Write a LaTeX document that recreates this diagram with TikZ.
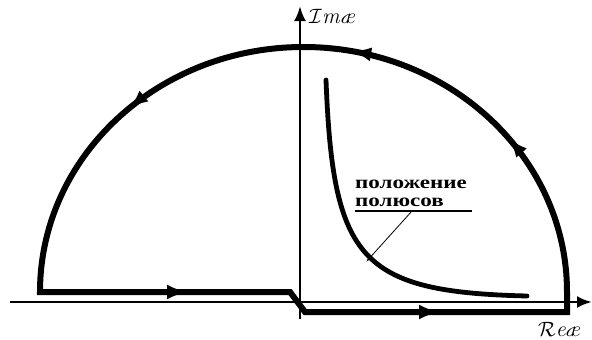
\documentclass[tikz,border=0pt]{standalone}
\usepackage{fontspec}
\newfontfamily\polfont[FakeStretch=1.28]{Liberation Serif}
\usepackage{tikz}
\usetikzlibrary{arrows.meta,positioning,decorations.markings}
\tikzset{
    os/.style={line width=2.8pt, -{Latex[length=15pt,width=12pt]}},
    kontur/.style={
        line width=6pt,
        line join=miter,
        postaction={decorate},
        decoration={markings,
            mark=at position 148pt with {\arrow{Latex[length=21pt,width=15pt]}},
            mark=at position 410pt with {\arrow{Latex[length=21pt,width=15pt]}},
            mark=at position 0.535 with {\arrow{Latex[length=20pt,width=14pt]}},
            mark=at position 0.67 with {\arrow{Latex[length=20pt,width=14pt]}},
            mark=at position 0.845 with {\arrow{Latex[length=20pt,width=14pt]}}}
    },
    polus/.style={line width=4.8pt, line cap=round},
    vynoska/.style={line width=0.8pt, -{Latex[length=8pt,width=5pt]}},
    podcherk/.style={line width=1.3pt},
    metka/.style={font=\fontsize{22}{22}\selectfont, inner sep=0pt},
    slovo/.style={font=\polfont\bfseries\fontsize{18}{18}\selectfont,
        inner sep=0pt, text height=8.5pt, text depth=0pt}
}

\begin{document}
\begin{tikzpicture}[x=1pt, y=-1pt]
    \useasboundingbox (0,0) rectangle (592,340);

    % oси
    \coordinate (xa) at (10,302);
    \coordinate (xb) at (592,302);
    \coordinate (ya) at (300,319);
    \coordinate (yb) at (300,6);
    \draw[os] (xa) -- (xb);
    \draw[os] (ya) -- (yb);
    \node[metka, anchor=west] (im) at (309,17) {$\mathcal{I}$\textit{mæ}};
    \node[metka, anchor=west] (re) at (538,330) {$\mathcal{R}$\textit{eæ}};

    % контур
    \coordinate (k1) at (40,292);
    \coordinate (k2) at (290,292);
    \coordinate (k3) at (305,312);
    \coordinate (k4) at (567,312);
    \coordinate (k5) at (567,292);
    \draw[kontur] (k1) -- (k2) -- (k3) -- (k4) -- (k5)
        arc[start angle=0, end angle=-180, x radius=263.5, y radius=245] -- cycle;

    % полюса
    \coordinate (p1) at (326,80);
    \coordinate (p2) at (527,296);
    \draw[polus] (p1) .. controls (333,260) and (360,292) .. (p2);

    % подпись
    \node[slovo, anchor=base west] (pol1) at (355,188) {положение};
    \node[slovo, below=9.5pt of pol1.south west, anchor=north west] (pol2) {полюсов};
    \coordinate (u1) at (355,211);
    \coordinate (u2) at (472,211);
    \coordinate (u3) at (412,211);
    \coordinate (pp) at (366,262);
    \draw[podcherk] (u1) -- (u2);
    \draw[vynoska] (u3) -- (pp);
\end{tikzpicture}
\end{document}
